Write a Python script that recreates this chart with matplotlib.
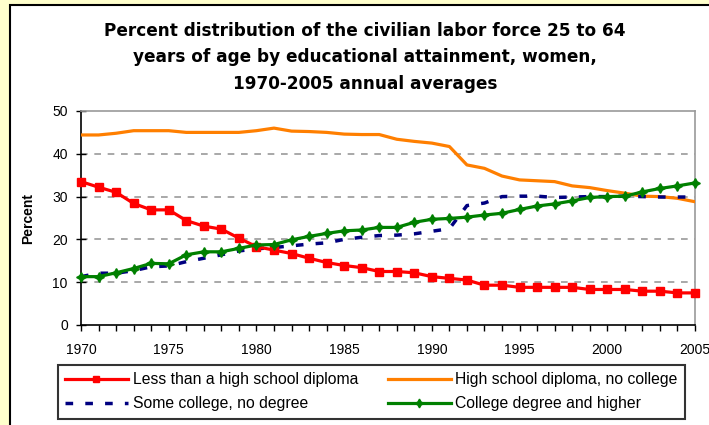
import matplotlib
matplotlib.use('Agg')
from matplotlib import pyplot as plt
from matplotlib.patches import Rectangle

plt.rcParams['font.family'] = ['Liberation Sans', 'DejaVu Sans']

years = list(range(1970, 2006))

# less than a high school diploma
less_hs = [33.5, 32.2, 31.0, 28.4, 26.9, 26.9, 24.4, 23.1, 22.4, 20.3,
           18.3, 17.5, 16.7, 15.6, 14.6, 13.9, 13.4, 12.5, 12.5, 12.2,
           11.3, 10.9, 10.5, 9.3, 9.3, 8.8, 8.8, 8.8, 8.8, 8.3,
           8.3, 8.3, 7.9, 7.9, 7.5, 7.5]
# high school diploma, no college
hs_only = [44.4, 44.4, 44.8, 45.4, 45.4, 45.4, 45.0, 45.0, 45.0, 45.0,
           45.4, 46.0, 45.3, 45.2, 45.0, 44.6, 44.5, 44.5, 43.4, 42.9,
           42.5, 41.7, 37.4, 36.6, 34.8, 33.9, 33.7, 33.5, 32.5, 32.1,
           31.4, 30.8, 30.1, 30.0, 29.6, 28.8]
# some college, no degree
some_college = [11.3, 12.1, 12.1, 12.7, 13.6, 13.8, 14.8, 15.6, 16.4, 17.3,
                17.8, 18.1, 18.5, 18.9, 19.2, 20.0, 20.5, 20.9, 21.0, 21.3,
                21.9, 22.5, 27.9, 28.5, 30.0, 30.1, 30.1, 29.8, 29.9, 30.0,
                30.0, 30.1, 30.0, 29.9, 29.9, 29.9]
# college degree and higher
college = [11.3, 11.3, 12.2, 13.2, 14.4, 14.3, 16.4, 17.1, 17.1, 17.9,
           18.7, 18.8, 19.9, 20.7, 21.4, 22.0, 22.2, 22.8, 22.8, 24.0,
           24.7, 24.9, 25.2, 25.7, 26.1, 27.0, 27.8, 28.3, 29.0, 29.8,
           30.0, 30.1, 31.1, 31.9, 32.5, 33.2]

W, H = 709, 425
fig = plt.figure(figsize=(W / 100, H / 100), dpi=100, facecolor='#FFFFCC')
# white chart area with black border (cropped on the right and bottom)
fig.patches.append(Rectangle((10 / W, -0.1), 1.2, 1.1 - 5 / H,
                             transform=fig.transFigure, facecolor='white',
                             edgecolor='black', linewidth=1.5, zorder=-10))

ax = fig.add_axes([81 / W, 1 - 325 / H, 614 / W, 214 / H])
ax.set_facecolor('white')

l1, = ax.plot(years, less_hs, color='#FF0000', lw=2.3, marker='s', ms=5.5,
              label='Less than a high school diploma', clip_on=False, zorder=5)
l2, = ax.plot(years, hs_only, color='#FF7F00', lw=2.3,
              label='High school diploma, no college', zorder=3)
l3, = ax.plot(years, some_college, color='#000080', lw=2.5, dashes=(2.2, 3.5),
              label='Some college, no degree', zorder=4)
l4, = ax.plot(years, college, color='#008000', lw=2.3, marker=(4, 1, 0), ms=7,
              label='College degree and higher', clip_on=False, zorder=6)

ax.set_xlim(1970, 2005)
ax.set_ylim(0, 50)
ax.set_xticks(range(1970, 2006, 5))
ax.set_xticks(years, minor=True)
ax.set_yticks(range(0, 51, 10))
ax.tick_params(axis='x', which='both', direction='out', length=4, width=1,
               pad=9, labelsize=10)
ax.tick_params(axis='y', direction='inout', length=7, width=1, pad=6,
               labelsize=10)

for y in [10, 20, 30, 40]:
    ax.axhline(y, color='#999999', lw=1.2, dashes=(4, 4), zorder=1)

ax.spines['top'].set_color('#999999')
ax.spines['right'].set_color('#999999')
ax.spines['left'].set_color('black')
ax.spines['bottom'].set_color('black')
for s in ax.spines.values():
    s.set_linewidth(1.2)

ax.set_ylabel('Percent', fontsize=10, fontweight='bold', labelpad=12)

fig.text(365 / W, 1 - 22 / H,
         'Percent distribution of the civilian labor force 25 to 64\n'
         'years of age by educational attainment, women,\n'
         '1970-2005 annual averages',
         ha='center', va='top', fontsize=12.2, fontweight='bold',
         family='DejaVu Sans', linespacing=1.6)

# row-wise order like the original legend
leg = fig.legend([l1, l3, l2, l4], [l.get_label() for l in [l1, l3, l2, l4]],
                 loc='upper left', bbox_to_anchor=(58 / W, 1 - 365 / H),
                 ncol=2, fontsize=11.3, frameon=True, fancybox=False,
                 edgecolor='black', handlelength=4.0, handletextpad=0.3,
                 columnspacing=1.9, borderpad=0.45, labelspacing=0.6,
                 borderaxespad=0, markerscale=0.9)
leg.get_frame().set_linewidth(1.5)

fig.savefig('out.png', dpi=100, facecolor=fig.get_facecolor())
